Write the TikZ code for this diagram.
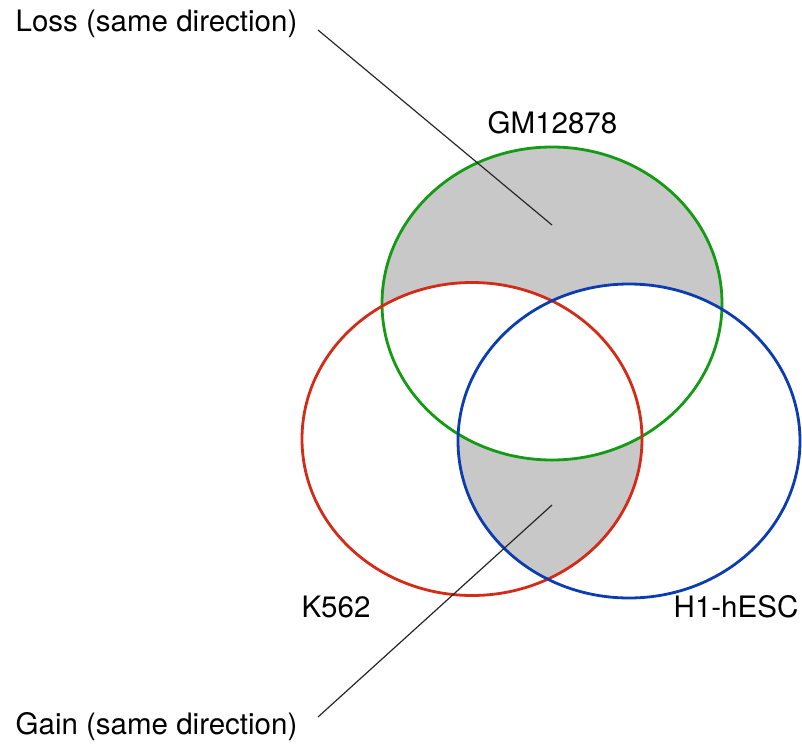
\documentclass[tikz,border=0pt]{standalone}
\usepackage{fontspec}
\setmainfont{TeX Gyre Heros}
\begin{document}
\begin{tikzpicture}[x=1pt,y=-1pt,
  setring/.style={line width=2.8pt},
  shade/.style={fill=shadegray},
  lbl/.style={inner sep=0pt,anchor=base,font=\fontsize{29.5}{34}\selectfont},
  pointer/.style={line width=1.2pt,draw=black!85}]
\definecolor{shadegray}{RGB}{200,200,200}
\definecolor{gmgreen}{RGB}{20,155,20}
\definecolor{kred}{RGB}{212,42,24}
\definecolor{hblue}{RGB}{12,60,178}
\useasboundingbox (0,0) rectangle (802,746);

% ellipse centres
\coordinate (cg) at (552,303.5);
\coordinate (cr) at (472,439);
\coordinate (cb) at (629,441);
\def\gmring{(cg) ellipse [x radius=170pt, y radius=156.5pt]}
\def\kring{(cr) ellipse [x radius=170pt, y radius=156.5pt]}
\def\hring{(cb) ellipse [x radius=171pt, y radius=157pt]}

% GM12878 only
\fill[shadegray] \gmring;
\fill[white] \kring;
\fill[white] \hring;
% K562 and H1-hESC, outside GM12878
\begin{scope}
  \clip \kring;
  \fill[shadegray] \hring;
  \clip \hring;
  \fill[white] \gmring;
\end{scope}

% outlines
\draw[setring,gmgreen] \gmring;
\draw[setring,kred] \kring;
\draw[setring,hblue] \hring;

% labels
\node[lbl] (loss) at (156.5,31.5) {Loss (same direction)};
\node[lbl] (gain) at (156.5,734.5) {Gain (same direction)};
\node[lbl] (gm) at (552.5,134) {GM12878};
\node[lbl] (k) at (336,617) {K562};
\node[lbl] (h) at (736,617) {H1-hESC};

% pointers from the labels into the shaded regions
\coordinate (lossfrom) at (318,30);
\coordinate (lossto) at (552,225);
\coordinate (gainfrom) at (318,717);
\coordinate (gainto) at (552,505);
\draw[pointer] (lossfrom) -- (lossto);
\draw[pointer] (gainfrom) -- (gainto);
\end{tikzpicture}
\end{document}
